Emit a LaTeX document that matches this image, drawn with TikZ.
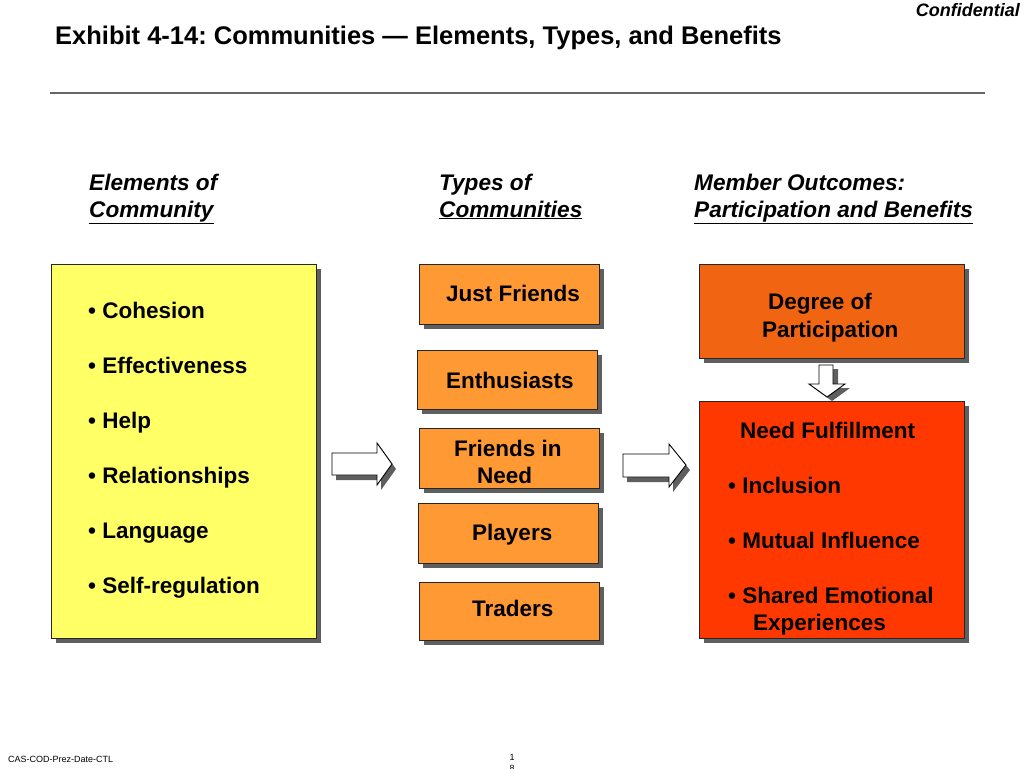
\documentclass[tikz,border=0pt]{standalone}
\usepackage{fontspec}
\setmainfont{Liberation Sans}
\usetikzlibrary{shadows}
\definecolor{boxyellow}{RGB}{255,255,102}
\definecolor{boxorange}{RGB}{255,153,51}
\definecolor{boxdeg}{RGB}{240,100,18}
\definecolor{boxneed}{RGB}{255,56,0}
\definecolor{shadowgray}{RGB}{95,95,95}
\tikzset{
  panel/.style={draw=black!85, line width=0.8pt, inner sep=0pt, anchor=north west,
    drop shadow={shadow xshift=5pt, shadow yshift=-5pt, fill=shadowgray, opacity=1}},
  txt/.style={inner sep=0pt, anchor=base west, font=\fontsize{22.5}{27}\selectfont\bfseries},
  head/.style={inner sep=0pt, anchor=base west, font=\fontsize{22.6}{27}\selectfont\bfseries\itshape},
  blockarrow/.style={draw=black, line width=0.9pt, fill=white},
  arrowshadow/.style={fill=shadowgray, draw=none},
}
\frenchspacing
\begin{document}
\begin{tikzpicture}[x=1pt,y=-1pt]
\useasboundingbox (0,0) rectangle (1024,768);
\fill[white] (0,0) rectangle (1024,768);

% header
\node[inner sep=0pt, anchor=base east, font=\fontsize{18}{20}\selectfont\bfseries\itshape] (conf) at (1020,17) {Confidential};
\node[inner sep=0pt, anchor=base west, font=\fontsize{25.5}{28}\selectfont\bfseries] (title) at (55,45) {Exhibit 4-14: Communities — Elements, Types, and Benefits};
\coordinate (ruleL) at (50,93);
\coordinate (ruleR) at (985,93);
\draw[black!60, line width=1.2pt] (ruleL) -- (ruleR);

% column headings
\node[head] (h1a) at (89,190) {Elements of};
\node[head] (h1b) at (89,217) {\underline{Community}};
\node[head] (h2a) at (439,190) {Types of};
\node[head] (h2b) at (439,217) {\underline{Communities}};
\node[head] (h3a) at (694,190) {Member Outcomes:};
\node[head] (h3b) at (694,217) {\underline{Participation and Benefits}};

% left panel
\node[panel, fill=boxyellow, minimum width=265pt, minimum height=374pt] (elements) at (51,264) {};
\node[txt] (e1) at (88,318) {• Cohesion};
\node[txt] (e2) at (88,373) {• Effectiveness};
\node[txt] (e3) at (88,428) {• Help};
\node[txt] (e4) at (88,483) {• Relationships};
\node[txt] (e5) at (88,538) {• Language};
\node[txt] (e6) at (88,593) {• Self-regulation};

% middle boxes
\node[panel, fill=boxorange, minimum width=180pt, minimum height=60pt] (justfriends) at (419,264) {};
\node[txt] (t1) at (446,301) {Just Friends};
\node[panel, fill=boxorange, minimum width=180pt, minimum height=59pt] (enthusiasts) at (417,350) {};
\node[txt] (t2) at (446,388) {Enthusiasts};
\node[panel, fill=boxorange, minimum width=180pt, minimum height=60pt] (friendsneed) at (419,428) {};
\node[txt] (t3a) at (454,456) {Friends in};
\node[txt] (t3b) at (477,483) {Need};
\node[panel, fill=boxorange, minimum width=180pt, minimum height=60pt] (players) at (418,503) {};
\node[txt] (t4) at (472,540) {Players};
\node[panel, fill=boxorange, minimum width=180pt, minimum height=58pt] (traders) at (419,582) {};
\node[txt] (t5) at (472,616) {Traders};

% right boxes
\node[panel, fill=boxdeg, minimum width=265pt, minimum height=94pt] (degree) at (699,264) {};
\node[txt] (d1) at (768,309) {Degree of};
\node[txt] (d2) at (762,337) {Participation};
\node[panel, fill=boxneed, minimum width=265pt, minimum height=237pt] (need) at (699,401) {};
\node[txt] (n0) at (740,438) {Need Fulfillment};
\node[txt] (n1) at (728,493) {• Inclusion};
\node[txt] (n2) at (728,548) {• Mutual Influence};
\node[txt] (n3) at (728,603) {• Shared Emotional};
\node[txt] (n4) at (753,630) {Experiences};

% left block arrow
\begin{scope}[shift={(4,5)}]
\fill[arrowshadow] (332,453) -- (377,453) -- (377,443) -- (392,464) -- (377,485) -- (377,475) -- (332,475) -- cycle;
\end{scope}
\draw[blockarrow] (332,453) -- (377,453) -- (377,443) -- (392,464) -- (377,485) -- (377,475) -- (332,475) -- cycle;
% right block arrow
\begin{scope}[shift={(4,5)}]
\fill[arrowshadow] (623,454) -- (669,454) -- (669,444) -- (686,465) -- (669,487) -- (669,477) -- (623,477) -- cycle;
\end{scope}
\draw[blockarrow] (623,454) -- (669,454) -- (669,444) -- (686,465) -- (669,487) -- (669,477) -- (623,477) -- cycle;
% down block arrow
\begin{scope}[shift={(5,4)}]
\fill[arrowshadow] (819,365) -- (833,365) -- (833,384) -- (845,384) -- (827,397) -- (809,384) -- (819,384) -- cycle;
\end{scope}
\draw[blockarrow] (819,365) -- (833,365) -- (833,384) -- (845,384) -- (827,397) -- (809,384) -- (819,384) -- cycle;

% footer
\node[inner sep=0pt, anchor=base west, font=\fontsize{9}{10}\selectfont] (foot) at (8,762) {CAS-COD-Prez-Date-CTL};
\node[inner sep=0pt, anchor=base, font=\fontsize{9}{10}\selectfont] (pg1) at (512,760) {1};
\node[inner sep=0pt, anchor=base, font=\fontsize{9}{10}\selectfont] (pg2) at (512,771) {8};
\end{tikzpicture}
\end{document}
